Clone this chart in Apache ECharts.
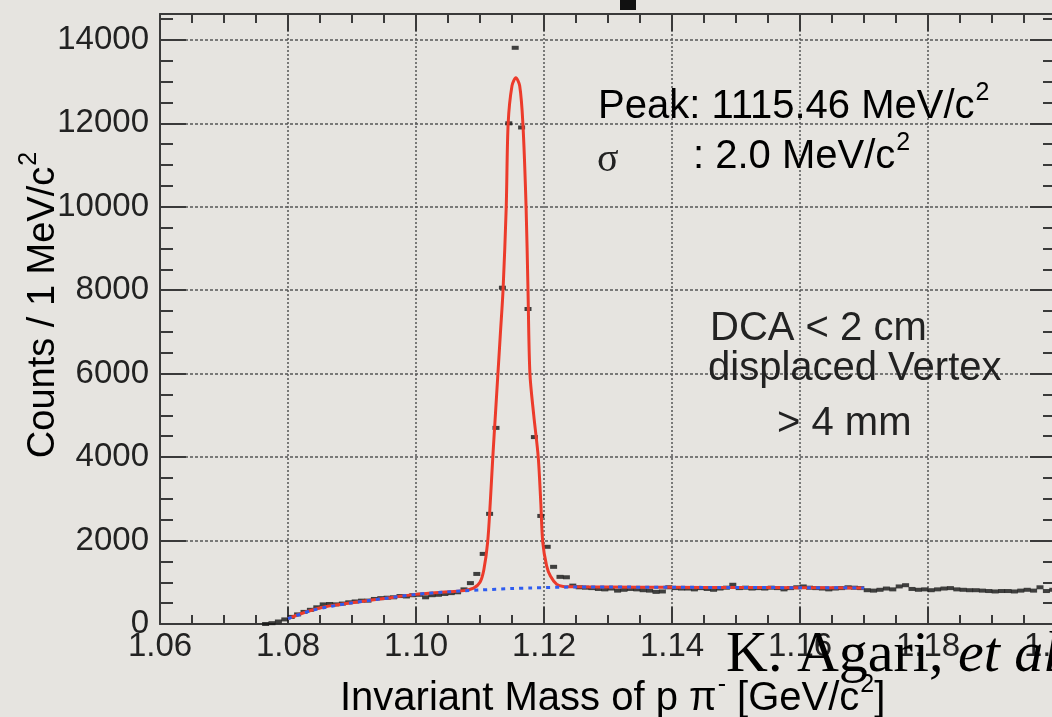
<!DOCTYPE html>
<html>
<head>
<meta charset="utf-8">
<script src="https://cdn.jsdelivr.net/npm/echarts@6/dist/echarts.min.js"></script>
<style>
html,body{margin:0;padding:0;background:#e6e4e0;}
#chart{width:1052px;height:717px;}
</style>
</head>
<body>
<div id="chart"></div>
<script>
// ---- data ----
const histMass = [1.0765,1.0775,1.0785,1.0795,1.0805,1.0815,1.0825,1.0835,1.0845,1.0855,
1.0865,1.0875,1.0885,1.0895,1.0905,1.0915,1.0925,1.0935,1.0945,1.0955,
1.0965,1.0975,1.0985,1.0995,1.1005,1.1015,1.1025,1.1035,1.1045,1.1055,
1.1065,1.1075,1.1085,1.1095,1.1105,1.1115,1.1125,1.1135,1.1145,1.1155,
1.1165,1.1175,1.1185,1.1195,1.1205,1.1215,1.1225,1.1235,1.1245,1.1255,
1.1265,1.1275,1.1285,1.1295,1.1305,1.1315,1.1325,1.1335,1.1345,1.1355,
1.1365,1.1375,1.1385,1.1395,1.1405,1.1415,1.1425,1.1435,1.1445,1.1455,
1.1465,1.1475,1.1485,1.1495,1.1505,1.1515,1.1525,1.1535,1.1545,1.1555,
1.1565,1.1575,1.1585,1.1595,1.1605,1.1615,1.1625,1.1635,1.1645,1.1655,
1.1665,1.1675,1.1685,1.1695,1.1705,1.1715,1.1725,1.1735,1.1745,1.1755,
1.1765,1.1775,1.1785,1.1795,1.1805,1.1815,1.1825,1.1835,1.1845,1.1855,
1.1865,1.1875,1.1885,1.1895,1.1905,1.1915,1.1925,1.1935,1.1945,1.1955,
1.1965,1.1975,1.1985,1.1995];
const histCounts = [0,20,60,110,170,230,290,340,400,470,
480,470,490,520,540,560,560,600,620,630,
640,670,660,690,700,640,690,700,720,740,
760,830,980,1200,1680,2640,4700,8060,12000,13810,
11900,7550,4480,2590,1850,1370,1130,1120,920,880,
870,860,840,830,850,800,820,840,830,810,
800,770,780,880,860,850,850,830,860,840,
820,850,870,940,860,870,850,860,850,870,
860,830,860,880,900,870,860,850,830,850,
860,880,870,860,810,800,820,850,830,900,
930,840,820,830,810,830,850,860,830,820,
810,810,800,790,780,790,790,780,800,820,
800,880,790,820];

const fitMass = [1.080,1.083,1.086,1.090,1.095,1.100,1.104,1.1075,1.109,1.110,
1.1106,1.1112,1.1116,1.1120,1.1124,1.1128,1.1132,1.1136,1.1141,1.1144,
1.1150,1.1156,1.1162,1.1167,1.1172,1.1175,1.1178,1.1184,1.1191,1.1195,
1.1198,1.1204,1.1210,1.1220,1.1230,1.125,1.130,1.140,1.150,1.160,1.170];
const fitCounts = [130,300,420,510,610,710,760,800,860,1000,
1300,1970,2900,4000,5000,6000,7000,8000,10000,12000,
12900,13090,12900,12000,10000,8000,6000,5000,4000,2900,
1970,1400,1150,950,900,890,885,880,875,870,865];

const bkgMass = [1.080,1.084,1.0897,1.095,1.100,1.105,1.110,1.115,1.118,1.125,1.130,1.140,1.150,1.160,1.170];
const bkgCounts = [130,335,500,610,710,770,815,850,865,885,885,880,875,870,865];

const xRange = [1.06, 1.20];
const yRange = [0, 14620];
const xMajor = 0.02, xMinor = 0.005, yMajor = 2000, yMinor = 500;

const FONT = '"Liberation Sans", Arial, Helvetica, sans-serif';
const SERIF = '"Liberation Serif", "Times New Roman", serif';
const frameColor = '#3a3a3a';
const textColor = '#222';

function xAxisDef(pos, interval, tickLen, major) {
  return {
    type: 'value', position: pos, min: xRange[0], max: xRange[1], interval: interval,
    axisLine: { show: major, onZero: false, lineStyle: { color: frameColor, width: 2 } },
    axisTick: { show: true, inside: true, length: tickLen, lineStyle: { color: frameColor, width: 2 } },
    axisLabel: (major && pos === 'bottom') ? {
      show: true, margin: 6, fontSize: 33, fontFamily: FONT, color: textColor,
      formatter: v => v.toFixed(2)
    } : { show: false },
    splitLine: (major && pos === 'bottom') ? { show: true, lineStyle: { color: '#555', width: 1.5, type: [2, 2] } } : { show: false }
  };
}
function yAxisDef(pos, interval, tickLen, major) {
  return {
    type: 'value', position: pos, min: yRange[0], max: yRange[1], interval: interval,
    axisLine: { show: major, onZero: false, lineStyle: { color: frameColor, width: 2 } },
    axisTick: { show: true, inside: true, length: tickLen, lineStyle: { color: frameColor, width: 2 } },
    axisLabel: (major && pos === 'left') ? {
      show: true, margin: 11, fontSize: 33, fontFamily: FONT, color: textColor,
      formatter: v => (v % yMajor === 0 ? String(v) : '')
    } : { show: false },
    splitLine: (major && pos === 'left') ? { show: true, lineStyle: { color: '#555', width: 1.5, type: [3, 2] } } : { show: false }
  };
}

const supRich = {
  n: { fontSize: 40, fontFamily: FONT, color: textColor, lineHeight: 46, verticalAlign: 'bottom' },
  s: { fontSize: 25, fontFamily: FONT, color: textColor, lineHeight: 46, verticalAlign: 'top', padding: [0, 0, 0, 1] }
};

const chart = echarts.init(document.getElementById('chart'), null, { renderer: 'canvas' });
chart.setOption({
  animation: false,
  backgroundColor: '#e6e4e0',
  grid: { left: 160, top: 14, width: 896, height: 610, containLabel: false, outerBoundsMode: 'none' },
  xAxis: [
    xAxisDef('bottom', xMajor, 17, true),
    xAxisDef('bottom', xMinor, 9, false),
    xAxisDef('top', xMajor, 17, true),
    xAxisDef('top', xMinor, 9, false)
  ],
  yAxis: [
    yAxisDef('left', yMajor, 26, true),
    yAxisDef('left', yMinor, 13, false),
    yAxisDef('right', yMajor, 26, true),
    yAxisDef('right', yMinor, 13, false)
  ],
  series: [
    {
      type: 'scatter', name: 'data', xAxisIndex: 0, yAxisIndex: 0, z: 2, silent: true,
      symbol: 'rect', symbolSize: [7, 4],
      itemStyle: { color: '#151515' },
      data: histMass.map((m, i) => [m, histCounts[i]])
    },
    {
      type: 'line', name: 'fit', xAxisIndex: 0, yAxisIndex: 0, z: 3, silent: true,
      smooth: 0.3, showSymbol: false,
      lineStyle: { color: '#ec3b2b', width: 3 },
      data: fitMass.map((m, i) => [m, fitCounts[i]])
    },
    {
      type: 'line', name: 'background', xAxisIndex: 0, yAxisIndex: 0, z: 4, silent: true,
      smooth: 0.3, showSymbol: false,
      lineStyle: { color: '#2e5cf0', width: 3, type: [4, 5] },
      data: bkgMass.map((m, i) => [m, bkgCounts[i]])
    }
  ],
  graphic: [
    { type: 'rect', shape: { x: 620, y: 0, width: 16, height: 10 }, style: { fill: '#111' }, z: 10 },
    { type: 'text', x: 40, y: 305, rotation: Math.PI / 2, z: 10,
      style: { text: '{n|Counts / 1 MeV/c}{s|2}', textAlign: 'center', textVerticalAlign: 'middle',
        rich: { n: Object.assign({}, supRich.n, { fontSize: 38 }), s: supRich.s } } },
    { type: 'text', x: 340, y: 696, z: 10,
      style: { text: '{n|Invariant Mass of p π}{s|-}{n| [GeV/c}{s|2}{n|]}', textAlign: 'left', textVerticalAlign: 'middle',
        rich: supRich } },
    { type: 'text', x: 598, y: 104, z: 10,
      style: { text: '{n|Peak: 1115.46 MeV/c}{s|2}', textAlign: 'left', textVerticalAlign: 'middle', rich: supRich } },
    { type: 'text', x: 597, y: 160, z: 10,
      style: { text: 'σ', font: '40px ' + SERIF, fill: textColor, textAlign: 'left', textVerticalAlign: 'middle' } },
    { type: 'text', x: 693, y: 154, z: 10,
      style: { text: '{n|: 2.0 MeV/c}{s|2}', textAlign: 'left', textVerticalAlign: 'middle', rich: supRich } },
    { type: 'text', x: 710, y: 329, z: 10,
      style: { text: 'DCA < 2 cm', font: '40px ' + FONT, fill: textColor, textAlign: 'left', textVerticalAlign: 'middle' } },
    { type: 'text', x: 708, y: 369, z: 10,
      style: { text: 'displaced Vertex', font: '40px ' + FONT, fill: textColor, textAlign: 'left', textVerticalAlign: 'middle' } },
    { type: 'text', x: 777, y: 424, z: 10,
      style: { text: '> 4 mm', font: '40px ' + FONT, fill: textColor, textAlign: 'left', textVerticalAlign: 'middle' } },
    { type: 'text', x: 726, y: 656, z: 11,
      style: {
        text: '{r|K. Agari, }{i|et al.}', textAlign: 'left', textVerticalAlign: 'middle',
        rich: {
          r: { fontSize: 58, fontFamily: SERIF, color: '#000' },
          i: { fontSize: 58, fontFamily: SERIF, fontStyle: 'italic', color: '#000' }
        }
      } }
  ]
});
</script>
</body>
</html>
